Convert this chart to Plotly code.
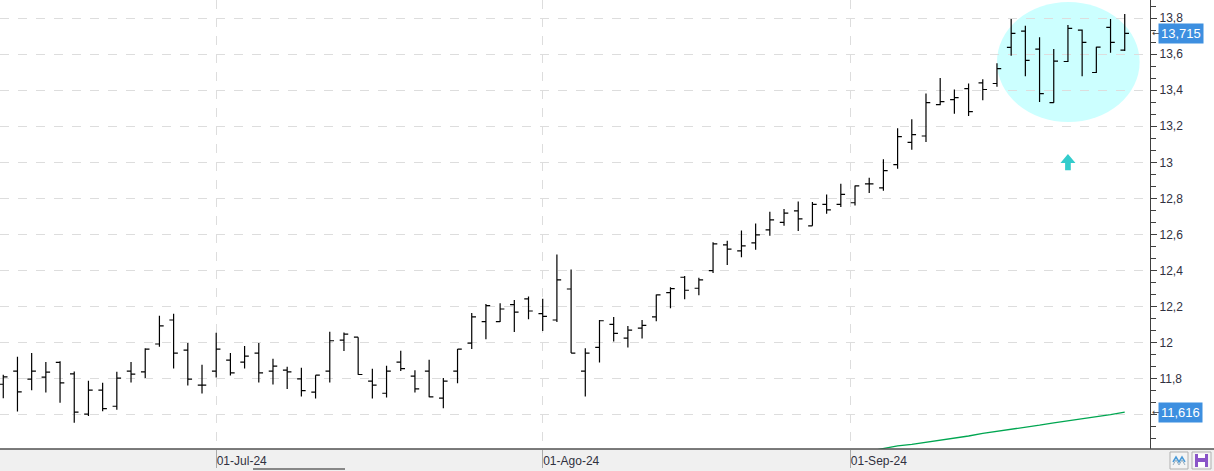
import numpy as np
import pandas as pd
import plotly.graph_objects as go

# ---------------- data ----------------
dates = pd.bdate_range("2024-06-10", "2024-09-27")  # 80 trading days

opens = [11.770, 11.843, 11.798, 11.809, 11.891, 11.828, 11.604, 11.737, 11.648, 11.843,
         11.839, 11.993, 12.126, 11.959, 11.765, 11.843, 11.904, 11.893, 11.943, 11.843,
         11.848, 11.800, 11.726, 11.843, 12.015, 12.031, 11.787, 11.720, 11.893, 11.815,
         11.843, 11.693, 11.843, 11.998, 12.117, 12.117, 12.211, 12.243, 12.161, 12.126,
         12.298, 11.843, 11.974, 12.102, 12.026, 12.081, 12.143, 12.278, 12.363, 12.302,
         12.400, 12.543, 12.509, 12.554, 12.626, 12.667, 12.731, 12.648, 12.767, 12.767,
         12.776, 12.881, 12.859, 12.987, 13.111, 13.146, 13.320, 13.348, 13.409, 13.441,
         13.437, 13.637, 13.728, 13.628, 13.331, 13.559, 13.733, 13.498, 13.748, 13.622]
highs = [11.822, 11.922, 11.943, 11.893, 11.898, 11.841, 11.789, 11.778, 11.839, 11.893,
         11.969, 12.150, 12.161, 11.998, 11.878, 12.056, 11.943, 11.982, 11.998, 11.911,
         11.867, 11.861, 11.820, 12.061, 12.057, 12.031, 11.856, 11.872, 11.956, 11.848,
         11.906, 11.804, 11.965, 12.165, 12.215, 12.219, 12.237, 12.257, 12.244, 12.489,
         12.406, 11.970, 12.126, 12.143, 12.093, 12.126, 12.267, 12.307, 12.370, 12.361,
         12.557, 12.565, 12.622, 12.661, 12.726, 12.741, 12.783, 12.780, 12.822, 12.881,
         12.872, 12.915, 13.017, 13.189, 13.239, 13.381, 13.467, 13.404, 13.437, 13.461,
         13.550, 13.794, 13.757, 13.693, 13.628, 13.761, 13.737, 13.641, 13.794, 13.822]
lows = [11.693, 11.619, 11.737, 11.724, 11.668, 11.557, 11.594, 11.620, 11.628, 11.780,
        11.804, 11.978, 11.857, 11.763, 11.719, 11.807, 11.819, 11.857, 11.780, 11.769,
        11.743, 11.702, 11.691, 11.780, 11.954, 11.822, 11.691, 11.696, 11.843, 11.724,
        11.698, 11.637, 11.776, 11.965, 12.019, 12.115, 12.059, 12.130, 12.065, 12.115,
        11.943, 11.702, 11.891, 12.007, 11.974, 12.024, 12.119, 12.191, 12.241, 12.263,
        12.387, 12.431, 12.474, 12.515, 12.593, 12.648, 12.619, 12.648, 12.715, 12.752,
        12.761, 12.830, 12.843, 12.965, 13.070, 13.113, 13.317, 13.269, 13.257, 13.344,
        13.419, 13.591, 13.478, 13.335, 13.331, 13.556, 13.478, 13.496, 13.607, 13.617]
closes = [11.811, 11.728, 11.843, 11.837, 11.778, 11.615, 11.737, 11.635, 11.804, 11.826,
          11.965, 12.094, 11.943, 11.798, 11.765, 11.965, 11.833, 11.926, 11.833, 11.870,
          11.839, 11.735, 11.820, 12.011, 12.048, 11.824, 11.765, 11.843, 11.856, 11.744,
          11.700, 11.787, 11.965, 12.143, 12.206, 12.187, 12.170, 12.176, 12.146, 12.348,
          11.943, 11.943, 12.122, 12.052, 12.070, 12.096, 12.265, 12.300, 12.291, 12.348,
          12.548, 12.519, 12.537, 12.598, 12.681, 12.719, 12.687, 12.767, 12.737, 12.822,
          12.870, 12.881, 12.954, 13.143, 13.154, 13.331, 13.337, 13.359, 13.281, 13.404,
          13.520, 13.715, 13.565, 13.381, 13.561, 13.743, 13.665, 13.639, 13.665, 13.715]

# long moving average (only its visible tail), starting at bar 61
ma_start = 61
ma_values = [11.399, 11.413, 11.428, 11.437, 11.448, 11.461, 11.472, 11.483, 11.498, 11.509,
             11.518, 11.531, 11.543, 11.556, 11.567, 11.576, 11.587, 11.602, 11.616]

month_starts = ["2024-07-01", "2024-08-01", "2024-09-01"]
month_labels = ["01-Jul-24", "01-Ago-24", "01-Sep-24"]

last_price = closes[-1]
last_ma = ma_values[-1]

# ---------------- positions (trading-day index, calendar interpolated) ----------------
idx = np.arange(len(dates))
date_ord = dates.map(pd.Timestamp.toordinal).to_numpy().astype(float)
tick_pos = np.interp([pd.Timestamp(d).toordinal() for d in month_starts], date_ord, idx)

def fmt(v):
    return f"{v:.3f}".replace(".", ",")

FONT = "Liberation Sans Narrow, Arial Narrow, Liberation Sans, Arial, sans-serif"
W, H = 1150.0, 449.0  # plot-area size in px, used for paper-coordinate decorations

def px(x):
    return x / W

def py(y):
    return 1 - y / H

fig = go.Figure()

fig.add_trace(go.Ohlc(
    x=idx, open=opens, high=highs, low=lows, close=closes,
    increasing=dict(line=dict(color="#000000", width=1.2)),
    decreasing=dict(line=dict(color="#000000", width=1.2)),
    tickwidth=0.3, showlegend=False, hoverinfo="skip",
))

fig.add_trace(go.Scatter(
    x=idx[ma_start:], y=ma_values, mode="lines",
    line=dict(color="#00a651", width=1.3), showlegend=False, hoverinfo="skip",
))

# highlight ellipse around the last two weeks
fig.add_shape(type="circle", xref="x", yref="y", x0=70, x1=80.05, y0=13.224, y1=13.889,
              fillcolor="#ccffff", line=dict(width=0), layer="below")

# small turquoise up arrow
ax, atip, abase, abot = 75.0, 13.046, 12.996, 12.956
fig.add_shape(type="path", xref="x", yref="y",
              path=(f"M {ax-0.53},{abase} L {ax},{atip} L {ax+0.53},{abase} "
                    f"L {ax+0.2},{abase} L {ax+0.2},{abot} L {ax-0.2},{abot} L {ax-0.2},{abase} Z"),
              fillcolor="#33cccc", line=dict(width=0), layer="above")

# bottom strip background and scroll indicator
fig.add_shape(type="rect", xref="paper", yref="paper", x0=0, x1=px(1214), y0=py(471), y1=py(449),
              fillcolor="#f0f0f0", line=dict(width=0), layer="below")
fig.add_shape(type="rect", xref="paper", yref="paper", x0=px(253), x1=px(345),
              y0=py(470), y1=py(468), fillcolor="#888888", line=dict(width=0))
fig.add_shape(type="line", xref="paper", yref="paper", x0=0, x1=px(1214), y0=py(449), y1=py(449),
              line=dict(color="#505050", width=1.5))

# bottom-right buttons
fig.add_shape(type="rect", xref="paper", yref="paper", x0=px(1170), x1=px(1188),
              y0=py(469), y1=py(452), fillcolor="#f4f4f4", line=dict(color="#b0b0b0", width=1))
fig.add_shape(type="path", xref="paper", yref="paper",
              path=(f"M {px(1173)},{py(462)} L {px(1176)},{py(457)} L {px(1179)},{py(462)} "
                    f"L {px(1182)},{py(457)} L {px(1185)},{py(462)}"),
              line=dict(color="#4a9ad8", width=1.5))
fig.add_shape(type="path", xref="paper", yref="paper",
              path=(f"M {px(1173)},{py(465)} L {px(1176)},{py(460)} L {px(1179)},{py(465)} "
                    f"L {px(1182)},{py(460)} L {px(1185)},{py(465)}"),
              line=dict(color="#9ab0c0", width=1))
fig.add_shape(type="rect", xref="paper", yref="paper", x0=px(1192), x1=px(1211),
              y0=py(469), y1=py(452), fillcolor="#f4f4f4", line=dict(color="#b0b0b0", width=1))
fig.add_shape(type="rect", xref="paper", yref="paper", x0=px(1195), x1=px(1208),
              y0=py(467), y1=py(454), fillcolor="#8a55c8", line=dict(width=0))
fig.add_shape(type="rect", xref="paper", yref="paper", x0=px(1198), x1=px(1205),
              y0=py(467), y1=py(462), fillcolor="#ffffff", line=dict(width=0))
fig.add_shape(type="rect", xref="paper", yref="paper", x0=px(1198), x1=px(1205),
              y0=py(458), y1=py(454), fillcolor="#ffffff", line=dict(width=0))

# price labels on the right axis
for val in (last_price, last_ma):
    fig.add_annotation(xref="paper", yref="y", x=px(1158), y=val, xanchor="left",
                       text=fmt(val), showarrow=False, bgcolor="#3d8fe0",
                       font=dict(color="#ffffff", size=13, family=FONT), borderpad=2)
    fig.add_annotation(xref="paper", yref="y", x=px(1150), y=val, xanchor="left",
                       text="←", showarrow=False,
                       font=dict(color="#404040", size=9, family="DejaVu Sans"))

fig.update_layout(
    width=1214, height=471,
    margin=dict(l=0, r=64, t=0, b=22),
    paper_bgcolor="#ffffff", plot_bgcolor="#ffffff",
    separators=",.",
    showlegend=False,
    xaxis=dict(
        range=[-0.23, 80.78], rangeslider=dict(visible=False),
        tickvals=tick_pos, ticktext=month_labels,
        ticks="outside", ticklen=18, tickcolor="#aaaaaa", tickwidth=1,
        ticklabelposition="outside right", ticklabelstandoff=1,
        tickfont=dict(family=FONT, size=12, color="#303040"),
        showgrid=True, gridcolor="#dddddd", griddash="dash", gridwidth=1,
        zeroline=False, showline=False, fixedrange=True,
    ),
    yaxis=dict(
        side="right", range=[11.411, 13.9], dtick=0.2, tick0=0,
        ticks="outside", ticklen=6, tickcolor="#404040",
        tickfont=dict(family=FONT, size=12, color="#303040"),
        showgrid=True, gridcolor="#dddddd", griddash="dash", gridwidth=1,
        minor=dict(dtick=0.2 / 3, tick0=0, ticks="outside", ticklen=5,
                   tickcolor="#404040", showgrid=False),
        showline=True, linecolor="#404040", linewidth=1.2, mirror=False,
        zeroline=False,
    ),
)

fig.write_html("out.html", config={"displayModeBar": False},
               post_script="document.body.style.margin='0';document.body.style.padding='0';")
